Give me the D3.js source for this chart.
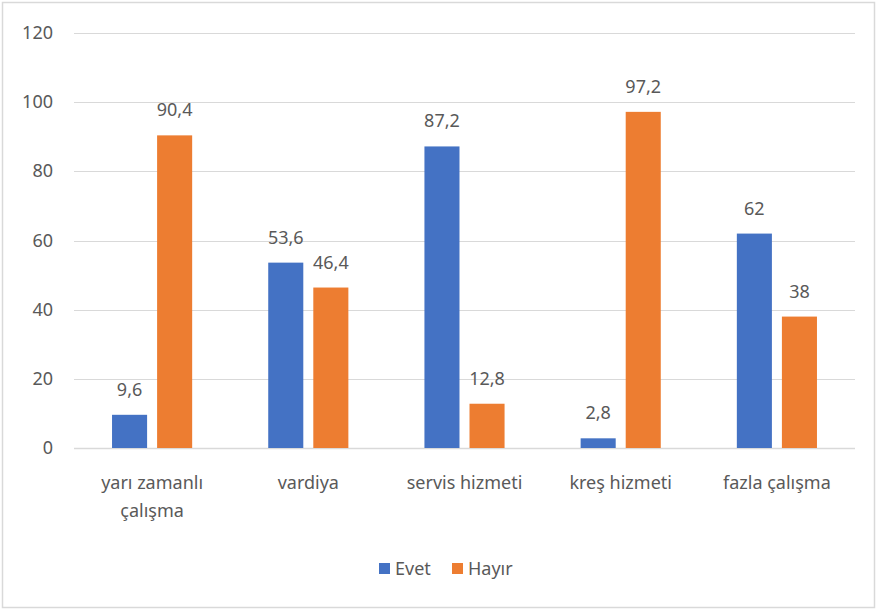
<!DOCTYPE html>
<html>
<head>
<meta charset="utf-8">
<script src="https://cdn.jsdelivr.net/npm/d3@7"></script>
<style>
  body { margin: 0; background: #fff; }
  text { font-family: "Noto Sans", "Open Sans", sans-serif; fill: #595959; }
</style>
</head>
<body>
<svg id="chart" width="877" height="610"></svg>
<script>
// data
var categories = [["yarı zamanlı", "çalışma"], ["vardiya"], ["servis hizmeti"], ["kreş hizmeti"], ["fazla çalışma"]];
var seriesNames = ["Evet", "Hayır"];
var evet = [9.6, 53.6, 87.2, 2.8, 62];
var hayir = [90.4, 46.4, 12.8, 97.2, 38];
var yTicks = [0, 20, 40, 60, 80, 100, 120];

var colors = ["#4472C4", "#ED7D31"];
var values = [evet, hayir];

var svg = d3.select("#chart");

// outer border
svg.append("rect")
  .attr("x", 2.5).attr("y", 2.5)
  .attr("width", 872).attr("height", 605)
  .attr("fill", "none")
  .attr("stroke", "#d9d9d9")
  .attr("stroke-width", 1.5);

var plotLeft = 74, plotRight = 855, plotTop = 33, plotBottom = 448;

var x = d3.scaleBand()
  .domain(d3.range(categories.length))
  .range([plotLeft, plotRight])
  .paddingInner(0)
  .paddingOuter(0);

var inner = d3.scaleBand()
  .domain(seriesNames)
  .range([0, x.bandwidth()])
  .paddingInner(0.222)
  .paddingOuter(0.844);

var y = d3.scaleLinear().domain([0, 120]).range([plotBottom, plotTop]);

// gridlines
svg.append("g").selectAll("line")
  .data(yTicks).enter()
  .append("line")
  .attr("x1", plotLeft).attr("x2", plotRight)
  .attr("y1", d => Math.round(y(d)) + 0.5)
  .attr("y2", d => Math.round(y(d)) + 0.5)
  .attr("stroke", "#d9d9d9")
  .attr("stroke-width", d => d === 0 ? 1.5 : 1.2);

// y labels
svg.append("g").selectAll("text")
  .data(yTicks).enter()
  .append("text")
  .attr("x", 53)
  .attr("y", d => y(d) + 6)
  .attr("text-anchor", "end")
  .attr("font-size", 18)
  .text(d => d);

// bars
seriesNames.forEach(function (s, si) {
  var g = svg.append("g");
  g.selectAll("rect")
    .data(values[si]).enter()
    .append("rect")
    .attr("x", (d, i) => x(i) + inner(s))
    .attr("width", inner.bandwidth())
    .attr("y", d => y(d))
    .attr("height", d => y(0) - y(d))
    .attr("fill", colors[si]);

  g.selectAll("text")
    .data(values[si]).enter()
    .append("text")
    .attr("x", (d, i) => x(i) + inner(s) + inner.bandwidth() / 2)
    .attr("y", d => y(d) - 19)
    .attr("text-anchor", "middle")
    .attr("font-size", 18)
    .text(d => String(d).replace(".", ","));
});

// category labels
var cat = svg.append("g").selectAll("text")
  .data(categories).enter()
  .append("text")
  .attr("text-anchor", "middle")
  .attr("font-size", 18);
cat.each(function (lines, i) {
  var t = d3.select(this);
  lines.forEach(function (line, li) {
    t.append("tspan")
      .attr("x", x(i) + x.bandwidth() / 2)
      .attr("y", 489 + li * 28)
      .text(line);
  });
});

// legend
var legend = svg.append("g");
var legendX = [379, 452];
seriesNames.forEach(function (s, si) {
  legend.append("rect")
    .attr("x", legendX[si]).attr("y", 563)
    .attr("width", 11).attr("height", 11)
    .attr("fill", colors[si]);
  legend.append("text")
    .attr("x", legendX[si] + 16).attr("y", 575)
    .attr("font-size", 18)
    .text(s);
});
</script>
</body>
</html>
